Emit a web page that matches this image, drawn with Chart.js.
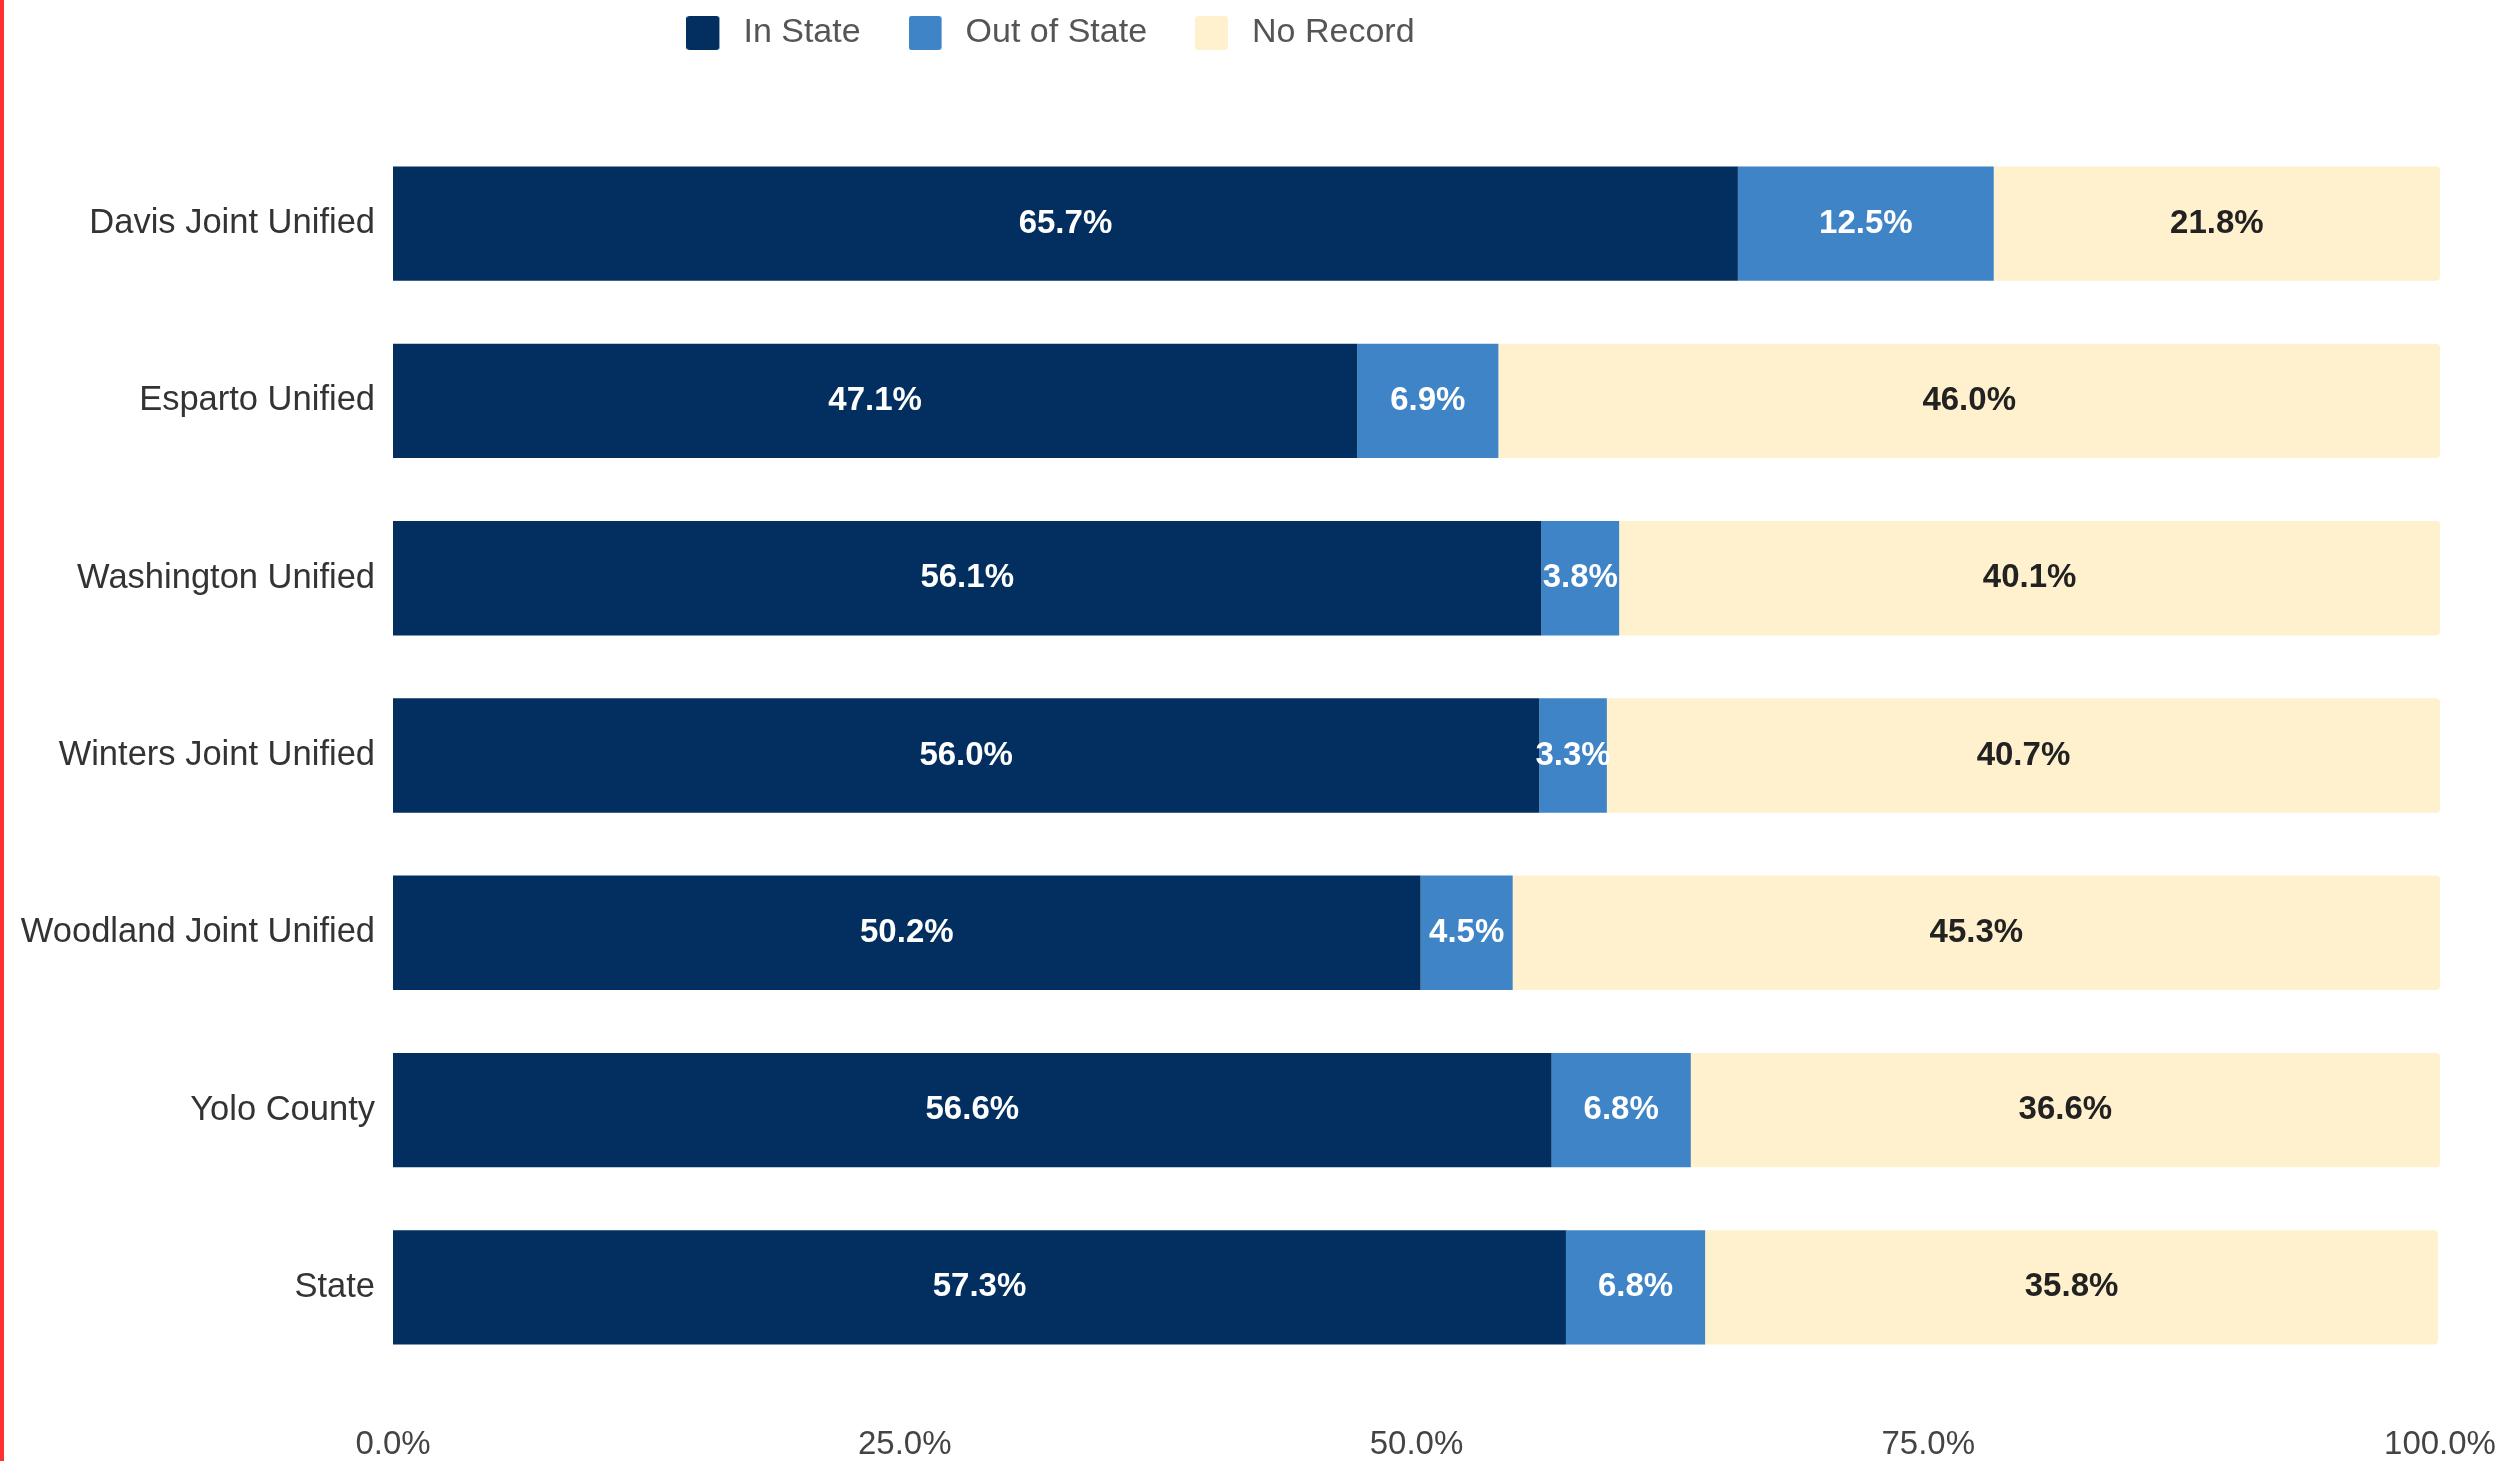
<!DOCTYPE html>
<html>
<head>
<meta charset="utf-8">
<script src="https://cdn.jsdelivr.net/npm/chart.js@4/dist/chart.umd.min.js"></script>
<style>
  body { margin: 0; background: #fff; }
  #wrap { position: relative; width: 2505px; height: 1461px; }
  #edge { position: absolute; left: 0; top: 0; width: 4px; height: 100%; background: #ff3030; }
</style>
</head>
<body>
<div id="wrap">
  <canvas id="residencyChart"></canvas>
  <div id="edge"></div>
</div>
<script>
// Danh mục và số liệu
const districts = [
  "Davis Joint Unified",
  "Esparto Unified",
  "Washington Unified",
  "Winters Joint Unified",
  "Woodland Joint Unified",
  "Yolo County",
  "State",
];
const inState = [65.7, 47.1, 56.1, 56.0, 50.2, 56.6, 57.3];
const outOfState = [12.5, 6.9, 3.8, 3.3, 4.5, 6.8, 6.8];
const noRecord = [21.8, 46.0, 40.1, 40.7, 45.3, 36.6, 35.8];
const xTicks = [0, 25, 50, 75, 100];

const colors = ["#022f5f", "#3e84c6", "#fff1cd"];
const FONT = '"Liberation Sans", Arial, sans-serif';

// Ô vuông chú thích (chừa khoảng trống bên phải để chữ cách xa hơn)
const legendIcons = colors.map((c) => {
  const cv = document.createElement("canvas");
  cv.width = 40;
  cv.height = 34;
  const g = cv.getContext("2d");
  g.fillStyle = c;
  g.beginPath();
  g.roundRect(0, 0, 33, 34, 3);
  g.fill();
  return cv;
});

// Nhãn phần trăm giữa mỗi đoạn
const barLabels = {
  id: "barLabels",
  afterDatasetsDraw(chart) {
    const ctx = chart.ctx;
    ctx.save();
    ctx.font = "bold 33px " + FONT;
    ctx.textAlign = "center";
    ctx.textBaseline = "middle";
    chart.data.datasets.forEach((ds, i) => {
      chart.getDatasetMeta(i).data.forEach((bar, j) => {
        const p = bar.getCenterPoint();
        ctx.fillStyle = i === 2 ? "#222222" : "#ffffff";
        ctx.fillText(ds.data[j].toFixed(1) + "%", p.x, p.y);
      });
    });
    ctx.restore();
  },
};

// Dời chú thích sang trái + lên trên
const legendShift = {
  id: "legendShift",
  beforeDraw(chart) {
    const lg = chart.legend;
    lg.left = 0;
    lg.right = 2101;
    lg.top = -32;
  },
};

const ctx = document.getElementById("residencyChart").getContext("2d");
new Chart(ctx, {
  type: "bar",
  data: {
    labels: districts,
    datasets: [
      { label: "In State", data: inState, backgroundColor: colors[0] },
      { label: "Out of State", data: outOfState, backgroundColor: colors[1] },
      { label: "No Record", data: noRecord, backgroundColor: colors[2], borderRadius: 4 },
    ],
  },
  options: {
    indexAxis: "y",
    responsive: true,
    maintainAspectRatio: false,
    animation: false,
    layout: { padding: { top: 43, right: 65, bottom: 0, left: 0 } },
    datasets: { bar: { categoryPercentage: 1, barPercentage: 0.645 } },
    plugins: {
      tooltip: { enabled: false },
      legend: {
        position: "top",
        labels: {
          usePointStyle: true,
          pointStyleWidth: 40,
          boxHeight: 34,
          padding: 48,
          color: "#555",
          font: { family: FONT, size: 34 },
          generateLabels: (chart) =>
            Chart.defaults.plugins.legend.labels
              .generateLabels(chart)
              .map((item, i) => ({ ...item, pointStyle: legendIcons[i] })),
        },
      },
    },
    scales: {
      x: {
        stacked: true,
        min: 0,
        max: 100,
        afterBuildTicks: (s) => { s.ticks = xTicks.map((v) => ({ value: v })); },
        afterFit: (s) => {
          s.height = 85;
          s.paddingLeft = 0;
          s.paddingRight = 0;
        },
        grid: { display: false, drawTicks: false },
        border: { display: false },
        ticks: {
          padding: 49,
          color: "#444",
          font: { family: FONT, size: 33 },
          callback: (v) => Number(v).toFixed(1) + "%",
        },
      },
      y: {
        stacked: true,
        afterFit: (s) => { s.width = 393; },
        grid: { display: false, drawTicks: false },
        border: { display: false },
        ticks: {
          padding: 18,
          color: "#333",
          font: { family: FONT, size: 34.5 },
        },
      },
    },
  },
  plugins: [barLabels, legendShift],
});
</script>
</body>
</html>
